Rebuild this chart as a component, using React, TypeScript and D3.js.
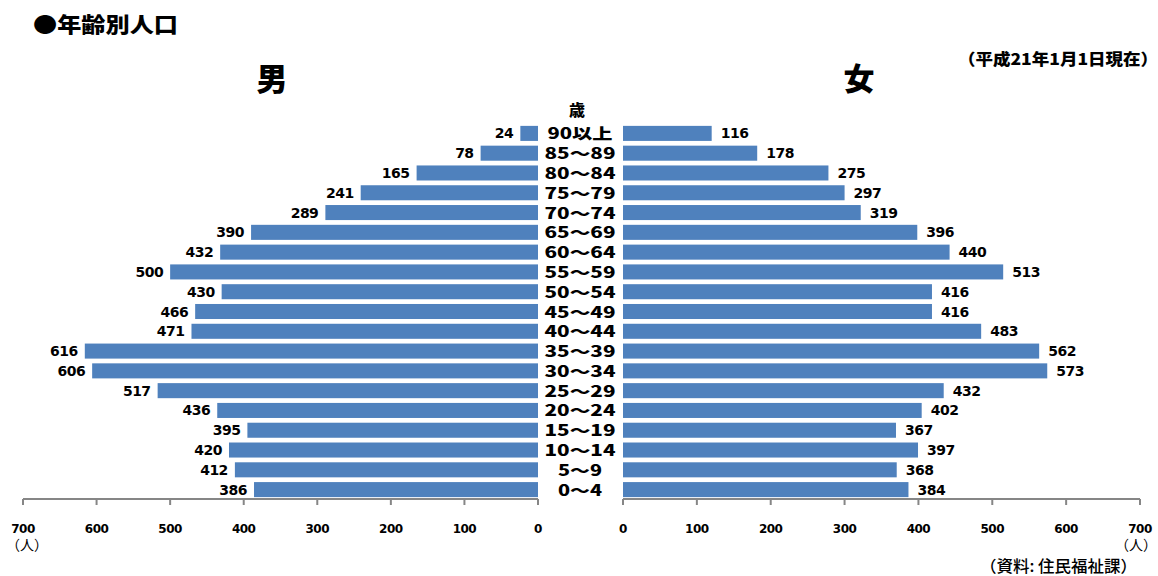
import React from "react";
import * as d3 from "d3";

const ageGroups = ["90以上", "85～89", "80～84", "75～79", "70～74", "65～69", "60～64", "55～59", "50～54", "45～49", "40～44", "35～39", "30～34", "25～29", "20～24", "15～19", "10～14", "5～9", "0～4"];
const maleValues = [24, 78, 165, 241, 289, 390, 432, 500, 430, 466, 471, 616, 606, 517, 436, 395, 420, 412, 386];
const femaleValues = [116, 178, 275, 297, 319, 396, 440, 513, 416, 416, 483, 562, 573, 432, 402, 367, 397, 368, 384];
const tickValues = [0, 100, 200, 300, 400, 500, 600, 700];

const W = 1158;
const H = 576;
const BAR = "#4F81BD";
const AXIS = "#868686";
const JP = "'Noto Sans CJK JP', 'Noto Sans', sans-serif";
const NUM = "'DejaVu Sans', 'Liberation Sans', sans-serif";

function labelWidth(s: string) {
  let w = 0;
  for (const ch of s) {
    if (/[0-9]/.test(ch)) w += 13.5;
    else if (ch === "～") w += 17;
    else w += 19;
  }
  return w;
}

export default function App() {
  const y = d3.scaleBand<string>().domain(ageGroups).range([123.5, 499.5]).paddingInner(0.24).paddingOuter(0.12);
  const xL = d3.scaleLinear().domain([0, 700]).range([538, 23]);
  const xR = d3.scaleLinear().domain([0, 700]).range([623, 1140]);
  const xRbar = d3.scaleLinear().domain([0, 700]).range([626.5, 1140.5]);
  const axisY = 499;
  const bh = y.bandwidth();

  return (
    <svg width={W} height={H} style={{ position: "absolute", left: 0, top: 0, background: "#fff" }}>
      <rect x={0} y={0} width={W} height={H} fill="#fff" />
      <text x={33} y={32} fontFamily={JP} fontWeight={900} fontSize={21} textLength={145} lengthAdjust="spacingAndGlyphs" fill="#000">●年齢別人口</text>
      <text x={1158} y={65} textAnchor="end" fontFamily={JP} fontWeight={900} fontSize={16} textLength={200} lengthAdjust="spacingAndGlyphs" fill="#000">（平成21年1月1日現在）</text>
      <text x={272} y={90} textAnchor="middle" fontFamily={JP} fontWeight={900} fontSize={31} fill="#000">男</text>
      <text x={859} y={90} textAnchor="middle" fontFamily={JP} fontWeight={900} fontSize={31} fill="#000">女</text>
      <text x={577} y={116} textAnchor="middle" fontFamily={JP} fontWeight={900} fontSize={16} fill="#000">歳</text>

      {ageGroups.map((g, i) => {
        const yy = y(g)!;
        const cy = yy + bh / 2;
        const mv = maleValues[i];
        const fv = femaleValues[i];
        return (
          <g key={g}>
            <rect x={xL(mv)} y={yy} width={xL(0) - xL(mv)} height={bh} fill={BAR} />
            <rect x={xR(0)} y={yy} width={xRbar(fv) - xR(0)} height={bh} fill={BAR} />
            <text x={xL(mv) - 7} y={cy + 5} textAnchor="end" fontFamily={NUM} fontWeight={700} fontSize={14} letterSpacing={-0.5} fill="#000">{mv}</text>
            <text x={xRbar(fv) + 9} y={cy + 5} fontFamily={NUM} fontWeight={700} fontSize={14} letterSpacing={-0.5} fill="#000">{fv}</text>
            <text x={580} y={cy + 6} textAnchor="middle" fontFamily={JP} fontWeight={900} fontSize={15} textLength={labelWidth(g)} lengthAdjust="spacingAndGlyphs" fill="#000">{g}</text>
          </g>
        );
      })}

      <line x1={xL(700)} x2={xL(0)} y1={axisY} y2={axisY} stroke={AXIS} strokeWidth={2} />
      <line x1={xR(0)} x2={xR(700)} y1={axisY} y2={axisY} stroke={AXIS} strokeWidth={2} />
      {tickValues.map((t) => (
        <g key={"t" + t}>
          <line x1={xL(t)} x2={xL(t)} y1={axisY} y2={axisY + 6} stroke={AXIS} strokeWidth={2} />
          <text x={xL(t)} y={533} textAnchor="middle" fontFamily={NUM} fontWeight={700} fontSize={12} letterSpacing={-0.5} fill="#000">{t}</text>
          <line x1={xR(t)} x2={xR(t)} y1={axisY} y2={axisY + 6} stroke={AXIS} strokeWidth={2} />
          <text x={xR(t)} y={533} textAnchor="middle" fontFamily={NUM} fontWeight={700} fontSize={12} letterSpacing={-0.5} fill="#000">{t}</text>
        </g>
      ))}
      <text x={6} y={550} fontFamily={JP} fontSize={14} fill="#000">（人）</text>
      <text x={1157} y={550} textAnchor="end" fontFamily={JP} fontSize={14} fill="#000">（人）</text>
      <text x={980} y={572} fontFamily={JP} fontWeight={500} fontSize={16} textLength={157} lengthAdjust="spacingAndGlyphs" fill="#000">（資料: 住民福祉課）</text>
    </svg>
  );
}
